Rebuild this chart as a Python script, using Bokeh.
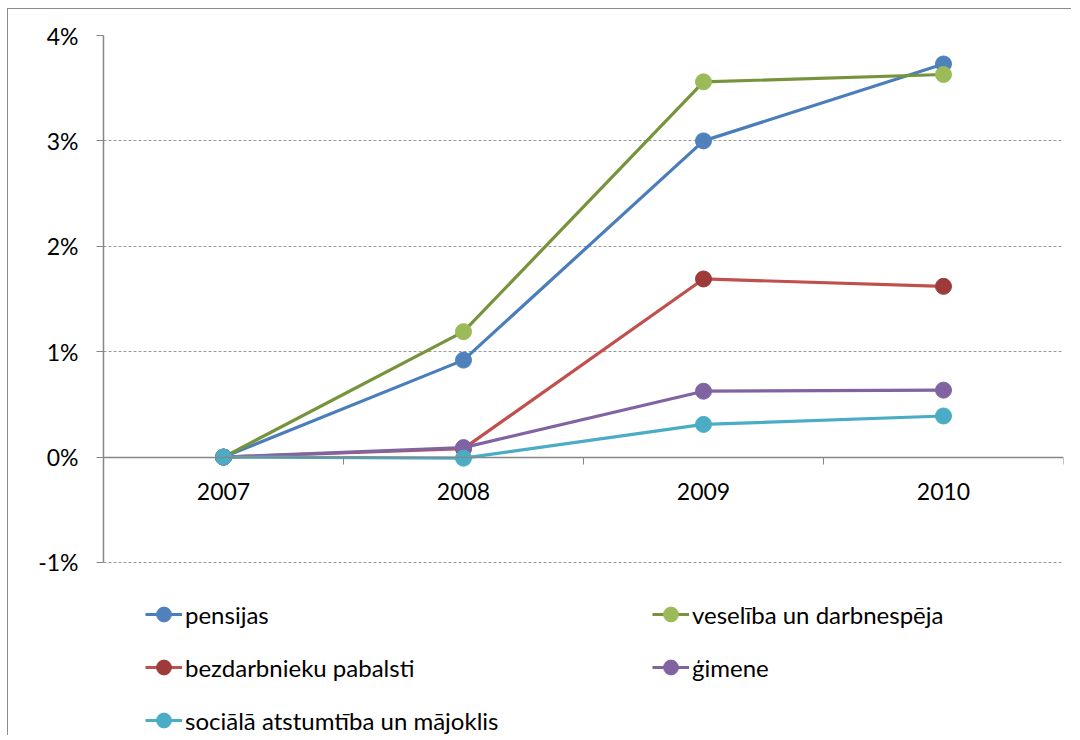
from bokeh.plotting import figure
from bokeh.models import Range1d, FixedTicker, LinearAxis, Legend, LegendItem
from bokeh.embed import file_html
from bokeh.resources import INLINE

years = ["2007", "2008", "2009", "2010"]
pensijas = [0.0, 0.92, 3.00, 3.73]
veseliba = [0.0, 1.19, 3.56, 3.63]
bezdarbnieku = [0.0, 0.08, 1.69, 1.62]
gimene = [0.0, 0.09, 0.625, 0.635]
sociala = [0.0, -0.01, 0.31, 0.39]
y_ticks = [-1, 0, 1, 2, 3, 4]

names = ["pensijas", "veselība un darbnespēja", "bezdarbnieku pabalsti", "ģimene",
         "sociālā atstumtība un mājoklis"]
series = [pensijas, veseliba, bezdarbnieku, gimene, sociala]
line_colors = ["#4A7EBB", "#77933C", "#C0504D", "#8064A2", "#4BACC6"]
marker_colors = ["#4F81BD", "#9BBB59", "#9E3B38", "#8064A2", "#4BACC6"]

FONT = "Lato"
FS = "23px"
xs = [i + 0.5 for i in range(len(years))]

# frame extends below the -1% line so the legend can sit inside it
p = figure(width=1064, height=727, output_backend="svg", toolbar_location=None,
           x_range=Range1d(0, len(years)), y_range=Range1d(-2.651, y_ticks[-1]),
           x_axis_location=None, y_axis_location=None,
           min_border_left=95, min_border_right=9, min_border_top=26, min_border_bottom=0)
p.outline_line_color = None
p.styles = {"position": "relative", "left": "7px", "top": "8px",
            "border-left": "1.5px solid #8c8c8c", "border-top": "1.5px solid #8c8c8c"}

# y axis
yax = LinearAxis(ticker=FixedTicker(ticks=y_ticks),
                 major_label_overrides={t: f"{t}%" for t in y_ticks},
                 bounds=(y_ticks[0], y_ticks[-1]))
yax.axis_line_color = "#868686"
yax.axis_line_width = 1.5
yax.major_tick_line_color = "#868686"
yax.major_tick_in = 0
yax.major_tick_out = 7
yax.minor_tick_line_color = None
yax.major_label_standoff = 18
yax.major_label_text_font = FONT
yax.major_label_text_font_size = FS
yax.major_label_text_color = "black"
p.add_layout(yax, "left")

# x axis: boundary ticks at y = 0
xax = LinearAxis(ticker=FixedTicker(ticks=list(range(len(years) + 1))),
                 major_label_overrides={i: "" for i in range(len(years) + 1)},
                 fixed_location=0)
xax.axis_line_color = "#868686"
xax.axis_line_width = 1.5
xax.major_tick_line_color = "#868686"
xax.major_tick_in = 0
xax.major_tick_out = 7
xax.minor_tick_line_color = None
p.add_layout(xax, "below")

# x axis: category labels
xlab = LinearAxis(ticker=FixedTicker(ticks=xs),
                  major_label_overrides={x: y for x, y in zip(xs, years)},
                  fixed_location=0)
xlab.axis_line_color = None
xlab.major_tick_line_color = None
xlab.minor_tick_line_color = None
xlab.major_tick_out = 0
xlab.major_tick_in = 0
xlab.major_label_standoff = 26
xlab.major_label_text_font = FONT
xlab.major_label_text_font_size = FS
xlab.major_label_text_color = "black"
p.add_layout(xlab, "below")

p.ygrid.ticker = FixedTicker(ticks=y_ticks)
p.ygrid.grid_line_color = "#9a9a9a"
p.ygrid.grid_line_dash = "3 2"
p.ygrid.grid_line_width = 1
p.xgrid.grid_line_color = None

items = []
for name, ys, lc, mc in zip(names, series, line_colors, marker_colors):
    l = p.line(xs, ys, line_color=lc, line_width=3.2)
    s = p.scatter(xs, ys, size=16, fill_color=mc, line_color=mc)
    items.append(LegendItem(label=name, renderers=[l, s]))

def make_legend(its, loc):
    lg = Legend(items=its, location=loc)
    lg.border_line_color = None
    lg.background_fill_alpha = 0
    lg.padding = 0
    lg.margin = 0
    lg.spacing = 13
    lg.glyph_width = 37
    lg.glyph_height = 40
    lg.label_height = 40
    lg.label_standoff = 3
    lg.label_text_font = FONT
    lg.label_text_font_size = "24px"
    lg.label_text_color = "black"
    lg.click_policy = "none"
    return lg

p.add_layout(make_legend([items[0], items[2], items[4]], (42, -4)), "center")
p.add_layout(make_legend([items[1], items[3]], (549, 49)), "center")

open("out.html", "w").write(file_html(p, INLINE))
